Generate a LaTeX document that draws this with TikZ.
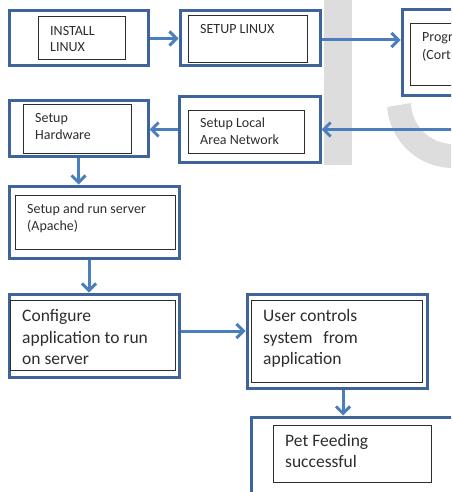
\documentclass[tikz,border=0pt]{standalone}
\usepackage{fontspec}
\setmainfont{Carlito}
\usetikzlibrary{arrows.meta}
\definecolor{boxblue}{RGB}{62,100,155}
\definecolor{flowblue}{RGB}{74,126,188}
\definecolor{wmgray}{RGB}{221,221,221}
\definecolor{inkgray}{RGB}{45,45,45}
% lines of a box text, baseline on the first line
\newcommand{\boxtext}[1]{\begin{tabular}[t]{@{}l@{}}#1\end{tabular}}

\begin{document}
\begin{tikzpicture}[x=1pt,y=-1pt,
	outerbox/.style={draw=boxblue,line width=3pt,inner sep=0},
	innerbox/.style={draw=inkgray,line width=1pt,inner sep=0},
	smalltxt/.style={anchor=base west,inner sep=0,text=inkgray,
		font=\fontsize{14}{17}\selectfont},
	bigtxt/.style={anchor=base west,inner sep=0,text=inkgray,
		font=\fontsize{17.5}{21.7}\selectfont},
	flow/.style={draw=flowblue,line width=3pt,-{Straight Barb[length=7pt,width=14pt]}}]
\useasboundingbox (0,0) rectangle (451,492);
\clip (0,0) rectangle (451,492);

% watermark behind everything
\fill[wmgray] (324,0) rectangle (352,165);
\fill[wmgray] (387,107) -- (411,103) -- (411,102) arc[start angle=180,end angle=90,radius=42]
	-- (453,168) arc[start angle=90,end angle=180,radius=66] -- cycle;

% first row
\node[outerbox,minimum width=139,minimum height=55] (install) at (78.5,38.5) {};
\node[innerbox,minimum width=87,minimum height=43] (installin) at (81.5,38.5) {};
\node[smalltxt,font=\fontsize{14}{16}\selectfont] (installtxt) at (50,35.5) {\boxtext{INSTALL\\LINUX}};

\node[outerbox,minimum width=140,minimum height=55] (setup) at (250,38.5) {};
\node[innerbox,minimum width=119,minimum height=47] (setupin) at (247.5,39.5) {};
\node[smalltxt] (setuptxt) at (200,34) {SETUP LINUX};

\node[outerbox,minimum width=140,minimum height=86] (prog) at (472,53) {};
\node[innerbox,minimum width=110,minimum height=62] (progin) at (465,55) {};
\node[smalltxt,font=\fontsize{14}{18}\selectfont] (progtxt) at (422,42) {\boxtext{Progr\\(Cort}};

% second row
\node[outerbox,minimum width=139,minimum height=55] (hw) at (78.5,128.5) {};
\node[innerbox,minimum width=108,minimum height=48] (hwin) at (77,129) {};
\node[smalltxt] (hwtxt) at (35,123) {\boxtext{Setup\\Hardware}};

\node[outerbox,minimum width=141,minimum height=65] (lan) at (249.5,129.5) {};
\node[innerbox,minimum width=116,minimum height=42] (lanin) at (246,132) {};
\node[smalltxt] (lantxt) at (200,128) {\boxtext{Setup Local\\Area Network}};
\coordinate (fromprog) at (452,129.5);

% left column
\node[outerbox,minimum width=170,minimum height=72] (server) at (94,222) {};
\node[innerbox,minimum width=160,minimum height=54] (serverin) at (95,222) {};
\node[smalltxt] (servertxt) at (27,213) {\boxtext{Setup and run server\\(Apache)}};

\node[outerbox,minimum width=170,minimum height=83] (config) at (94,335.5) {};
\node[innerbox,minimum width=165,minimum height=70] (configin) at (92.5,335) {};
\node[bigtxt] (configtxt) at (22,321.5) {\boxtext{Configure\\application to run\\on server}};

% right column
\node[outerbox,minimum width=180,minimum height=94] (user) at (337,341) {};
\node[innerbox,minimum width=171,minimum height=82] (userin) at (336.5,341) {};
\node[bigtxt] (usertxt) at (263,321.5) {\boxtext{User controls\\system\hspace{0.4em} from\\application}};

\node[outerbox,minimum width=240,minimum height=110] (pet) at (371,472) {};
\node[innerbox,minimum width=158,minimum height=57] (petin) at (352,453.5) {};
\node[bigtxt,font=\fontsize{17.5}{20.5}\selectfont] (pettxt) at (285,446.5) {\boxtext{Pet Feeding\\successful}};

% connectors
\draw[flow] (install.east) -- (setup.west);
\draw[flow] ([yshift=-1.5pt]setup.east) -- ([yshift=-1.5pt]setup.east -| prog.west);
\draw[flow] (fromprog) -- (lan.east);
\draw[flow] (lan.west) -- (lan.west -| hw.east);
\draw[flow] (hw.south) -- (hw.south |- server.north);
\draw[flow] ([xshift=-5pt]server.south) -- ([xshift=-5pt]config.north);
\draw[flow] ([yshift=4.5pt]config.east) -- ([yshift=4.5pt]config.east -| user.west);
\draw[flow] ([xshift=6pt]user.south) -- ([xshift=6pt]user.south |- pet.north);
\end{tikzpicture}
\end{document}
